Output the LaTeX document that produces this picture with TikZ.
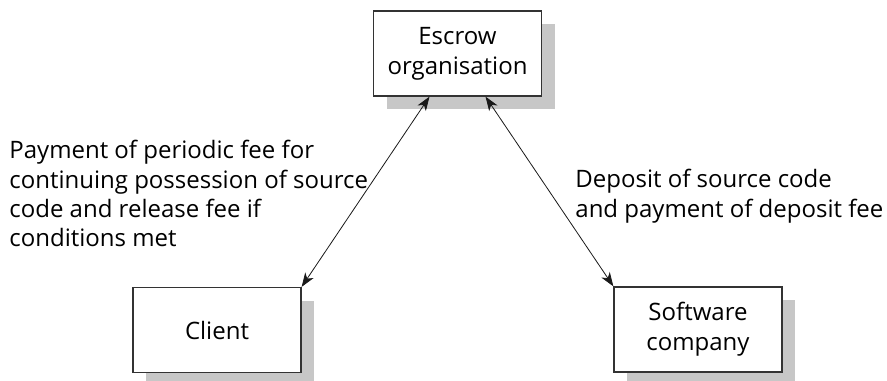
\documentclass[tikz,border=0pt]{standalone}
\usepackage{fontspec}
\setmainfont{Open Sans}
\usetikzlibrary{positioning, arrows.meta, shadows}

\begin{document}
\begin{tikzpicture}[
  x=0.5pt, y=-0.5pt,
  party/.style={
    rectangle, draw=black!80, line width=0.6pt, fill=white,
    minimum width=84pt, minimum height=42.5pt,
    align=center, font=\fontsize{12}{15}\selectfont, inner sep=0pt,
    drop shadow={shadow xshift=6.5pt, shadow yshift=-6.5pt,
      fill=black!22, opacity=1},
  },
  note/.style={align=left, font=\fontsize{12}{14.7}\selectfont, inner sep=0pt, anchor=north west},
  link/.style={{Stealth[length=7pt,width=5pt,inset=2pt]}-{Stealth[length=7pt,width=5pt,inset=2pt]},
    line width=0.4pt, black!90},
]
\useasboundingbox (0,0) rectangle (887,380);

% The three parties: escrow on top, client and vendor below.
\node[party] (escrow) at (457.5,53.5) {Escrow\\organisation};
\node[party] (client) at (217,330)    {Client};
\node[party] (vendor) at (698,329.5)  {Software\\company};

% Two-way links to the escrow box.
\draw[link] (client.north east) -- ([xshift=-14pt]escrow.south);
\draw[link] (vendor.north west) -- ([xshift=14pt]escrow.south);

% What passes along each link.
\node[note] (clientNote) at (9,140) {Payment of periodic fee for\\
  continuing possession of source\\
  code and release fee if\\
  conditions met};
\node[note] (vendorNote) at (575,169) {Deposit of source code\\
  and payment of deposit fee};

\end{tikzpicture}
\end{document}
